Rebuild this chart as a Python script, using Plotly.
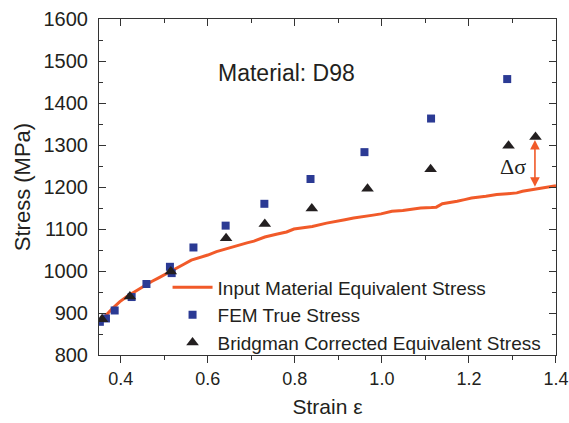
import plotly.graph_objects as go

# Input material equivalent stress curve
line_strain = [0.355, 0.363, 0.380, 0.398, 0.415, 0.432, 0.452, 0.471, 0.486, 0.501, 0.515, 0.528,
               0.545, 0.562, 0.580, 0.600, 0.620, 0.640, 0.655, 0.673, 0.690, 0.706, 0.731, 0.760,
               0.781, 0.798, 0.820, 0.840, 0.873, 0.900, 0.915, 0.935, 0.956, 0.980, 0.998, 1.023,
               1.048, 1.070, 1.089, 1.114, 1.125, 1.139, 1.160, 1.173, 1.190, 1.206, 1.239, 1.264,
               1.289, 1.310, 1.323, 1.352, 1.375, 1.400]
line_stress = [885, 891, 910, 927, 940, 951, 963, 975, 983, 991, 999, 1007,
               1016, 1026, 1031, 1038, 1046, 1052, 1056, 1063, 1067, 1071, 1081, 1088,
               1093, 1100, 1103, 1106, 1114, 1118, 1122, 1126, 1130, 1133, 1136, 1142,
               1144, 1147, 1150, 1151, 1152, 1160, 1163, 1166, 1170, 1174, 1178, 1182,
               1184, 1186, 1190, 1195, 1198, 1203]

# FEM true stress
fem_strain = [0.352, 0.366, 0.386, 0.425, 0.459, 0.513, 0.517, 0.567, 0.641, 0.730, 0.836, 0.960, 1.113, 1.288]
fem_stress = [879, 887, 906, 938, 969, 1010, 995, 1056, 1108, 1160, 1219, 1283, 1363, 1457]

# Bridgman corrected equivalent stress
bridg_strain = [0.357, 0.421, 0.515, 0.642, 0.731, 0.839, 0.967, 1.112, 1.291, 1.353]
bridg_stress = [885, 939, 999, 1078, 1112, 1149, 1196, 1242, 1298, 1319]

x_ticks = [0.4, 0.6, 0.8, 1.0, 1.2, 1.4]
y_ticks = [800, 900, 1000, 1100, 1200, 1300, 1400, 1500, 1600]

FONT = "Arial, Liberation Sans, sans-serif"
TXT = "#231F20"
ORANGE = "#F15A29"

fig = go.Figure()
fig.add_trace(go.Scatter(x=line_strain, y=line_stress, mode="lines",
                         line=dict(color=ORANGE, width=3),
                         name="Input Material Equivalent Stress"))
fig.add_trace(go.Scatter(x=fem_strain, y=fem_stress, mode="markers",
                         marker=dict(symbol="square", size=8, color="#2B3A94"),
                         name="FEM True Stress"))
fig.add_trace(go.Scatter(x=bridg_strain, y=bridg_stress, mode="markers",
                         marker=dict(symbol="triangle-up", size=11, color=TXT),
                         name="Bridgman Corrected Equivalent Stress"))

fig.add_annotation(x=1.3517, y=1312, ax=1.3517, ay=1197, xref="x", yref="y",
                   axref="x", ayref="y", showarrow=True, arrowside="end+start",
                   arrowhead=2, arrowsize=1.2, arrowwidth=1.6, arrowcolor=ORANGE, text="")
fig.add_annotation(x=1.302, y=1250, xref="x", yref="y", text="Δσ", showarrow=False,
                   font=dict(family="Times New Roman, Liberation Serif, serif", size=22, color=TXT))
fig.add_annotation(x=0.78, y=1472, xref="x", yref="y", text="Material: D98", showarrow=False,
                   font=dict(family=FONT, size=23, color=TXT))

fig.update_layout(
    width=569, height=423,
    margin=dict(l=99, r=13, t=19, b=68),
    plot_bgcolor="white", paper_bgcolor="white",
    font=dict(family=FONT, size=20, color=TXT),
    showlegend=True,
    legend=dict(x=0.15, y=0.258, xanchor="left", yanchor="top",
                bgcolor="rgba(0,0,0,0)", font=dict(size=19, color=TXT),
                itemwidth=40, tracegroupgap=0),
    xaxis=dict(range=[0.35, 1.4001], tickvals=x_ticks, ticktext=[f"{v:.1f}" for v in x_ticks],
               ticks="outside", ticklen=7, tickwidth=1, tickcolor="#333",
               ticklabeloverflow="allow", tickfont=dict(size=18),
               minor=dict(dtick=0.1, tick0=0.3, ticks="outside", ticklen=4, tickcolor="#333"),
               showline=True, linecolor="#333", linewidth=1, mirror=False,
               showgrid=False, zeroline=False, automargin=False,
               title=dict(text="Strain ε", font=dict(size=21), standoff=11)),
    xaxis2=dict(range=[0.35, 1.4001], overlaying="x", side="top", tickvals=x_ticks,
                showticklabels=False, ticks="inside", ticklen=7, tickcolor="#333",
                minor=dict(dtick=0.1, tick0=0.3, ticks="inside", ticklen=4, tickcolor="#333"),
                showline=True, linecolor="#333", linewidth=1, showgrid=False, zeroline=False,
                automargin=False),
    yaxis=dict(range=[800, 1600], tickvals=y_ticks,
               ticks="inside", ticklen=7, tickwidth=1, tickcolor="#333",
               minor=dict(dtick=50, tick0=800, ticks="inside", ticklen=4, tickcolor="#333"),
               showline=True, linecolor="#333", linewidth=1, mirror="ticks",
               showgrid=False, zeroline=False, ticklabelstandoff=6, automargin=False,
               title=dict(text="Stress (MPa)", font=dict(size=22), standoff=6)),
)
fig.add_trace(go.Scatter(x=[0.35, 1.4], y=[800, 800], xaxis="x2", mode="markers",
                         marker=dict(opacity=0), showlegend=False, hoverinfo="skip"))

fig.write_html("out.html", config={"displayModeBar": False},
               post_script="document.body.style.margin='0';document.body.style.padding='0';")
